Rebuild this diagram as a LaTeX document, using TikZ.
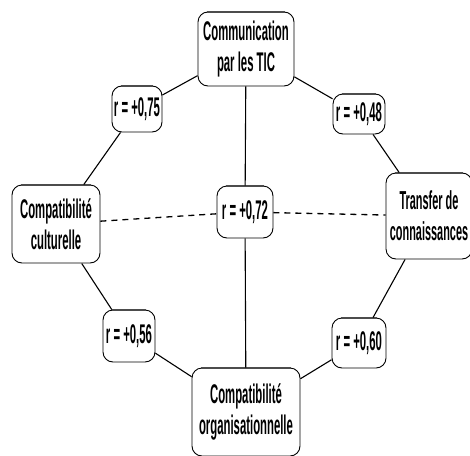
\documentclass[tikz,border=0pt]{standalone}
\usepackage{fontspec}
\setmainfont[FakeStretch=0.42]{Liberation Sans}
\begin{document}
\begin{tikzpicture}[x=1pt,y=-1pt,
  box/.style={draw=black, line width=0.9pt, rounded corners=10pt, align=center,
    inner sep=0pt, font=\bfseries\fontsize{27}{31}\selectfont},
  rbox/.style={box},
  topedge/.style={draw=black!70, line width=2pt},
  link/.style={draw=black, line width=1.1pt},
  dlink/.style={link, line width=1.3pt, dash pattern=on 6pt off 5pt}]
\useasboundingbox (0,0) rectangle (470,455);
\node[box, minimum width=96pt, minimum height=74pt] (top) at (246,49) {Communication\\par les TIC};
\node[box, minimum width=88pt, minimum height=78pt] (left) at (56,224) {Compatibilité\\culturelle};
\node[box, minimum width=86pt, minimum height=86pt, font=\bfseries\fontsize{26}{31}\selectfont] (right) at (429,216) {Transfer de\\connaissances};
\node[box, minimum width=108pt, minimum height=88pt] (bottom) at (246,412) {Compatibilité\\organisationnelle};
\node[rbox, minimum width=50pt, minimum height=46pt] (r75) at (137,109) {r = +0,75};
\node[rbox, minimum width=52pt, minimum height=40pt] (r48) at (359,114) {r = +0,48};
\node[rbox, minimum width=56pt, minimum height=52pt] (r72) at (245,212) {r = +0,72};
\node[rbox, minimum width=52pt, minimum height=52pt] (r56) at (129,336) {r = +0,56};
\node[rbox, minimum width=54pt, minimum height=50pt] (r60) at (359,343) {r = +0,60};
\foreach \n in {top,left,right,bottom,r75,r48,r72,r56,r60}
  \draw[topedge] ([xshift=9pt,yshift=-0.8pt]\n.north west) -- ([xshift=-9pt,yshift=-0.8pt]\n.north east);
\draw[link] (top) -- (r75);
\draw[link] (top) -- (r48);
\draw[link] (left) -- (r75);
\draw[link] (left) -- (r56);
\draw[link] (right) -- (r48);
\draw[link] (right) -- (r60);
\draw[link] (bottom) -- (r56);
\draw[link] (bottom) -- (r60);
\draw[link] (top) -- (r72);
\draw[link] (r72) -- (bottom);
\draw[dlink] (left) -- (r72);
\draw[dlink] (r72) -- (right);
\end{tikzpicture}
\end{document}
